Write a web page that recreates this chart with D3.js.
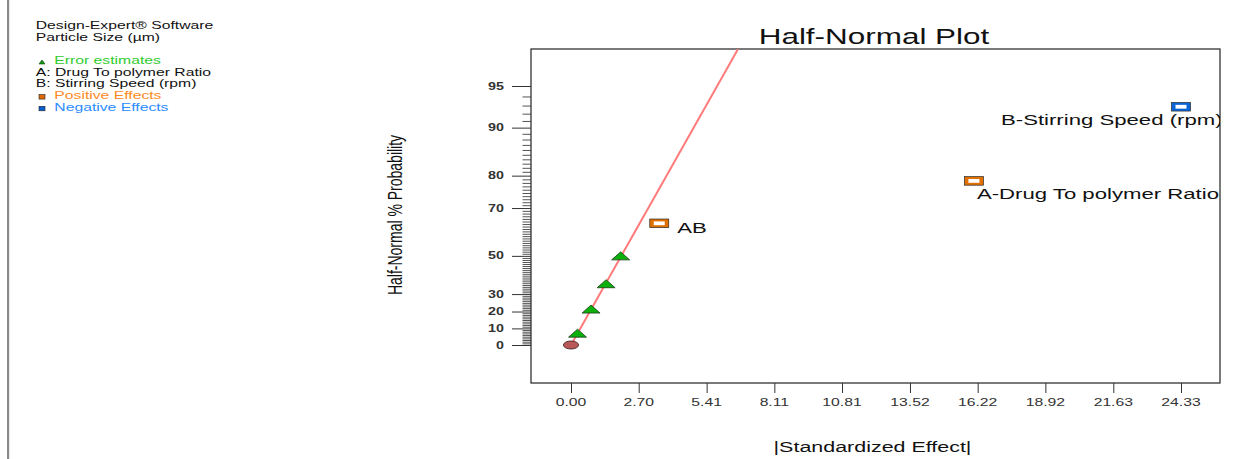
<!DOCTYPE html>
<html lang="en">
<head>
  <meta charset="UTF-8">
  <title>Half-Normal Plot</title>
  <script src="https://d3js.org/d3.v7.min.js"></script>
  <style>
    body { margin: 0; background: #fff; }
    svg { display: block; font-family: Arial, "Liberation Sans", sans-serif; }
  </style>
</head>
<body>
  <svg width="1236" height="459"></svg>

  <script>
    // values
    const errorEffects = [0.26, 0.80, 1.40, 1.98];
    const errorProbs   = [7.14, 21.43, 35.71, 50.00];

    const effectNames  = ["AB", "A-Drug To polymer Ratio", "B-Stirring Speed (rpm)"];
    const effectValues = [3.52, 16.07, 24.33];
    const effectProbs  = [64.29, 78.57, 92.86];
    const effectSigns  = ["positive", "positive", "negative"];

    const originEffect = 0;
    const originProb = 0;

    // fitted line through the error estimates
    const fitEffects = [0, 5.83];
    const fitProbs   = [0, 95];

    const xTickLabels = ["0.00", "2.70", "5.41", "8.11", "10.81", "13.52", "16.22", "18.92", "21.63", "24.33"];
    const yTickLabels = [0, 10, 20, 30, 50, 70, 80, 90, 95];

    const legendHeader = ["Design-Expert\u00ae Software", "Particle Size (\u00b5m)"];
    const legendItems = [
      { text: "Error estimates", color: "#2ecc2e", marker: "triangle" },
      { text: "A: Drug To polymer Ratio", color: "#111", marker: null },
      { text: "B: Stirring Speed (rpm)", color: "#111", marker: null },
      { text: "Positive Effects", color: "#ff8a1e", marker: "positive" },
      { text: "Negative Effects", color: "#2a8cff", marker: "negative" }
    ];

    const svg = d3.select("svg");
    const SX = 1.43; // the picture is stretched sideways

    const box = { left: 531, right: 1220, top: 49, bottom: 383 };

    // inverse normal cdf (Acklam)
    function qnorm(p) {
      const a = [-39.69683028665376, 220.9460984245205, -275.9285104469687, 138.3577518672690, -30.66479806614716, 2.506628277459239];
      const b = [-54.47609879822406, 161.5858367942051, -155.6989798598866, 66.80131188771972, -13.28068155288572];
      const c = [-0.007784894002430293, -0.3223964580411365, -2.400758277161838, -2.549732539343734, 4.374664141464968, 2.938163982698783];
      const d = [0.007784695709041462, 0.3224671290700398, 2.445134137142996, 3.754408661907416];
      const pl = 0.02425;
      let q, r;
      if (p < pl) {
        q = Math.sqrt(-2 * Math.log(p));
        return (((((c[0]*q+c[1])*q+c[2])*q+c[3])*q+c[4])*q+c[5]) / ((((d[0]*q+d[1])*q+d[2])*q+d[3])*q+1);
      } else if (p <= 1 - pl) {
        q = p - 0.5; r = q * q;
        return (((((a[0]*r+a[1])*r+a[2])*r+a[3])*r+a[4])*r+a[5])*q / (((((b[0]*r+b[1])*r+b[2])*r+b[3])*r+b[4])*r+1);
      }
      q = Math.sqrt(-2 * Math.log(1 - p));
      return -(((((c[0]*q+c[1])*q+c[2])*q+c[3])*q+c[4])*q+c[5]) / ((((d[0]*q+d[1])*q+d[2])*q+d[3])*q+1);
    }
    const halfZ = pct => qnorm(0.5 + pct / 200);

    const x = d3.scaleLinear().domain([0, 24.33]).range([571, 1181]);
    const yz = d3.scaleLinear().domain([0, halfZ(95)]).range([345, 86]);
    const y = pct => yz(halfZ(pct));

    function stext(parent, px, py, str) {
      return parent.append("text")
        .attr("transform", `translate(${px},${py}) scale(${SX},1)`)
        .text(str);
    }

    // left gray rule
    svg.append("rect").attr("x", 7).attr("y", 0).attr("width", 2.2).attr("height", 459).attr("fill", "#8a8a8a");

    // legend
    const leg = svg.append("g").attr("font-size", "11px").attr("fill", "#111");
    legendHeader.forEach((t, i) => stext(leg, 35.7, 29 + i * 11.7, t));
    legendItems.forEach((it, i) => {
      const by = 64 + i * 11.7;
      if (it.marker === "triangle") {
        leg.append("path").attr("d", `M39,${by} L45,${by} L42,${by - 4} Z`).attr("fill", "#0a9a0a").attr("stroke", "#124012").attr("stroke-width", 0.6);
      } else if (it.marker) {
        leg.append("rect").attr("x", 39).attr("y", by - 4.5).attr("width", 6).attr("height", 4.5)
          .attr("fill", it.marker === "positive" ? "#e06800" : "#0a5fd0").attr("stroke", "#222").attr("stroke-width", 0.6);
      }
      stext(leg, it.marker ? 54.3 : 35.7, by, it.text).attr("fill", it.color);
    });

    // title
    stext(svg, 874, 44, "Half-Normal Plot").attr("text-anchor", "middle").attr("font-size", "22px").attr("fill", "#111");

    // clip for the plot area
    svg.append("clipPath").attr("id", "plotclip").append("rect")
      .attr("x", box.left).attr("y", box.top).attr("width", box.right - box.left).attr("height", box.bottom - box.top);

    // y axis ticks (minor every 1 %, major at labels)
    const minorProbs = d3.range(1, 95).filter(p => !yTickLabels.includes(p));
    svg.append("g").attr("transform", `translate(${box.left},0)`)
      .call(d3.axisLeft(yz).tickValues(minorProbs.map(halfZ)).tickSize(8.5).tickFormat(""))
      .call(g => g.select(".domain").remove())
      .call(g => g.selectAll("line").attr("stroke", "#555"));
    svg.append("g").attr("transform", `translate(${box.left},0)`)
      .call(d3.axisLeft(yz).tickValues(yTickLabels.map(halfZ)).tickSize(19).tickFormat(""))
      .call(g => g.select(".domain").remove())
      .call(g => g.selectAll("line").attr("stroke", "#333"));
    const yl = svg.append("g").attr("font-size", "10px").attr("font-weight", "bold").attr("fill", "#333").attr("text-anchor", "end");
    yTickLabels.forEach(p => stext(yl, 504, y(p) + 3.6, String(p)));

    // x axis ticks
    svg.append("g").attr("transform", `translate(0,${box.bottom})`)
      .call(d3.axisBottom(x).tickValues(xTickLabels.map(Number)).tickSize(10).tickSizeOuter(0).tickFormat(""))
      .call(g => g.select(".domain").remove())
      .call(g => g.selectAll("line").attr("stroke", "#333"));
    const xl = svg.append("g").attr("font-size", "11px").attr("fill", "#333").attr("text-anchor", "middle");
    xTickLabels.forEach(t => stext(xl, x(+t), 406, t));

    // axis titles
    svg.append("text")
      .attr("transform", `translate(402,215) scale(${SX},1) rotate(-90)`)
      .attr("text-anchor", "middle").attr("font-size", "14px").attr("fill", "#111")
      .text("Half-Normal % Probability");
    stext(svg, 872.5, 451.5, "|Standardized Effect|").attr("text-anchor", "middle").attr("font-size", "15px").attr("fill", "#111");

    // plot frame
    svg.append("rect")
      .attr("x", box.left).attr("y", box.top).attr("width", box.right - box.left).attr("height", box.bottom - box.top)
      .attr("fill", "none").attr("stroke", "#333").attr("stroke-width", 1.3);

    const plot = svg.append("g").attr("clip-path", "url(#plotclip)");

    // fitted line, carried on to the top of the frame
    const zFit = fitProbs.map(halfZ);
    const fitX = d3.scaleLinear().domain(zFit).range(fitEffects);
    const zTop = yz.invert(box.top);
    plot.append("line")
      .attr("x1", x(fitX(zFit[0]))).attr("y1", yz(zFit[0]))
      .attr("x2", x(fitX(zTop))).attr("y2", yz(zTop))
      .attr("stroke", "#ff7a7a").attr("stroke-width", 2);

    // origin marker
    plot.append("ellipse")
      .attr("cx", x(originEffect)).attr("cy", y(originProb)).attr("rx", 7.6).attr("ry", 4)
      .attr("fill", "#b85858").attr("stroke", "#3a1a1a").attr("stroke-width", 0.8);

    // error estimates
    plot.selectAll("path.err")
      .data(errorEffects.map((v, i) => ({ v, p: errorProbs[i] })))
      .enter().append("path")
      .attr("class", "err")
      .attr("d", d => {
        const cx = x(d.v), cy = y(d.p);
        return `M${cx - 9},${cy + 4} L${cx + 9},${cy + 4} L${cx},${cy - 4} Z`;
      })
      .attr("fill", "#0bb00b").attr("stroke", "#1c3a1c").attr("stroke-width", 0.8);

    // significant effects
    const labelOffset = { "AB": [18, 10], "A-Drug To polymer Ratio": [3, 18], "B-Stirring Speed (rpm)": [-180, 18] };
    const effects = effectNames.map((n, i) => ({ n, v: effectValues[i], p: effectProbs[i], s: effectSigns[i] }));
    effects.forEach(d => {
      const cx = x(d.v), cy = y(d.p);
      plot.append("rect").attr("x", cx - 9.5).attr("y", cy - 4.3).attr("width", 19).attr("height", 8.6)
        .attr("fill", d.s === "positive" ? "#e07000" : "#0a66d8").attr("stroke", "#2a2a2a").attr("stroke-width", 0.7);
      plot.append("rect").attr("x", cx - 5.5).attr("y", cy - 1.9).attr("width", 11).attr("height", 3.8).attr("fill", "#fff");
      const off = labelOffset[d.n];
      stext(plot, cx + off[0], cy + off[1], d.n).attr("font-size", "15.5px").attr("fill", "#111");
    });
  </script>
</body>
</html>
